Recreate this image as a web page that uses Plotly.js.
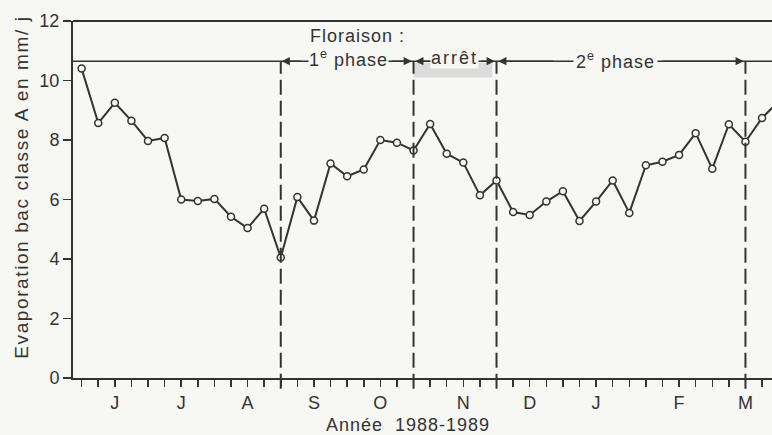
<!DOCTYPE html>
<html><head><meta charset="utf-8">
<script src="https://cdn.plot.ly/plotly-3.0.1.min.js"></script>
<style>
html,body{margin:0;padding:0;background:#f7f7f4;}
.annotation-text{letter-spacing:1px;}
text[data-unformatted^="Evaporation"]{letter-spacing:1.6px;}
text[data-unformatted="arrêt"]{letter-spacing:2px;}
</style>
</head><body><div id="chart" style="width:772px;height:435px;"></div>
<script>
// Weekly observations, index along the x axis (June 1988 -> March 1989)
const weekIndex = [0,1,2,3,4,5,6,7,8,9,10,11,12,13,14,15,16,17,18,19,20,21,22,23,24,25,26,27,28,29,30,31,32,33,34,35,36,37,38,39,40,41,42];
const evaporation = [10.4,8.57,9.25,8.65,7.97,8.07,6.0,5.95,6.02,5.42,5.04,5.69,4.05,6.08,5.29,7.21,6.78,7.01,8.0,7.91,7.65,8.54,7.54,7.24,6.14,6.64,5.58,5.48,5.93,6.28,5.28,5.93,6.64,5.55,7.15,7.27,7.5,8.23,7.03,8.53,7.94,8.74,9.3];
const monthTickIndex = [2,6,10,14,18,23,27,31,36,40];
const monthLabels = ['J','J','A','S','O','N','D','J','F','M'];
const yTicks = [0,2,4,6,8,10,12];
const phaseBoundaries = [12,20,25,40];
const phaseLevel = 10.65;
const arretBand = {x0:20.0, x1:24.75, y0:10.1, y1:10.6};
const arrows = [ // [head, tail]
  [12.05,13.3],[19.9,18.6],[20.1,21.1],[24.9,24.0],[25.1,28.5],[39.9,34.9]
];

const BG = '#f7f7f4', INK = '#333333';
const FONT = 'Liberation Sans, Arial, sans-serif';

const ticktext = weekIndex.map(i => { const k = monthTickIndex.indexOf(i); return k >= 0 ? monthLabels[k] : ''; });

const trace = {
  x: weekIndex, y: evaporation, type: 'scatter', mode: 'lines+markers',
  line: {color: INK, width: 2},
  marker: {symbol: 'circle', size: 7, color: BG, line: {color: INK, width: 1.5}},
  cliponaxis: true, hoverinfo: 'skip'
};

const shapes = [];
shapes.push({type:'line', xref:'paper', yref:'paper', x0:0, x1:1, y0:1, y1:1, line:{color:INK, width:2}});
shapes.push({type:'line', xref:'paper', yref:'y', x0:0, x1:1, y0:phaseLevel, y1:phaseLevel, line:{color:INK, width:1.5}});
shapes.push({type:'rect', xref:'x', yref:'y', x0:arretBand.x0, x1:arretBand.x1, y0:arretBand.y0, y1:arretBand.y1, line:{width:0}, fillcolor:'#dcdcdc', layer:'below'});
phaseBoundaries.forEach(b => {
  shapes.push({type:'line', xref:'x', yref:'paper', x0:b, x1:b, y0:-0.03, y1:phaseLevel/12, line:{color:INK, width:2, dash:'15px,6px'}});
});

const annotations = [];
arrows.forEach(([h,t]) => annotations.push({x:h, y:phaseLevel, ax:t, ay:phaseLevel, xref:'x', yref:'y', axref:'x', ayref:'y', text:'', showarrow:true, arrowhead:2, arrowsize:1.1, arrowwidth:1.5, arrowcolor:INK, standoff:0, startstandoff:0}));
annotations.push({x:13.64, y:11.51, xref:'x', yref:'y', xanchor:'left', yanchor:'middle', text:'Floraison :', showarrow:false, font:{family:FONT, size:18, color:INK}});
annotations.push({x:13.64, y:phaseLevel, xref:'x', yref:'y', xanchor:'left', yanchor:'middle', yshift:3, text:'1<sup>e</sup> phase', showarrow:false, bgcolor:BG, borderpad:0, font:{family:FONT, size:18, color:INK}});
annotations.push({x:22.45, y:phaseLevel, xref:'x', yref:'y', xanchor:'center', yanchor:'middle', yshift:3, text:'arrêt', showarrow:false, bgcolor:BG, borderpad:0, font:{family:FONT, size:18, color:INK}});
annotations.push({x:32.15, y:phaseLevel, xref:'x', yref:'y', xanchor:'center', yanchor:'middle', yshift:1, text:'2<sup>e</sup> phase', showarrow:false, bgcolor:BG, borderpad:2, font:{family:FONT, size:18, color:INK}});
annotations.push({x:19.64, y:0, xref:'x', yref:'paper', xanchor:'center', yanchor:'middle', yshift:-47, text:'Année\u00a0 1988-1989', showarrow:false, font:{family:FONT, size:18, color:INK}});
annotations.push({x:0, y:0.533, xref:'paper', yref:'paper', xanchor:'center', yanchor:'middle', xshift:-51, textangle:-90, text:'Evaporation bac classe A en mm/ j', showarrow:false, font:{family:FONT, size:19, color:INK}});

const layout = {
  width:772, height:435,
  margin:{l:73, r:0, t:21, b:57, pad:0},
  paper_bgcolor:BG, plot_bgcolor:BG,
  showlegend:false,
  font:{family:FONT, size:18, color:INK},
  xaxis:{range:[-0.52,41.6], tickmode:'array', tickvals:weekIndex, ticktext:ticktext,
         ticks:'outside', ticklen:7, tickwidth:1.5, tickcolor:INK,
         showline:true, linewidth:2, linecolor:INK, showgrid:false, zeroline:false,
         tickfont:{family:FONT, size:18, color:INK}},
  yaxis:{range:[0,12], tickmode:'array', tickvals:yTicks,
         ticks:'outside', ticklen:8, tickwidth:1.5, tickcolor:INK,
         showline:true, linewidth:2, linecolor:INK, showgrid:false, zeroline:false,
         tickfont:{family:FONT, size:18, color:INK}},
  shapes:shapes, annotations:annotations
};
Plotly.newPlot('chart', [trace], layout, {displayModeBar:false, staticPlot:true});
</script></body></html>
